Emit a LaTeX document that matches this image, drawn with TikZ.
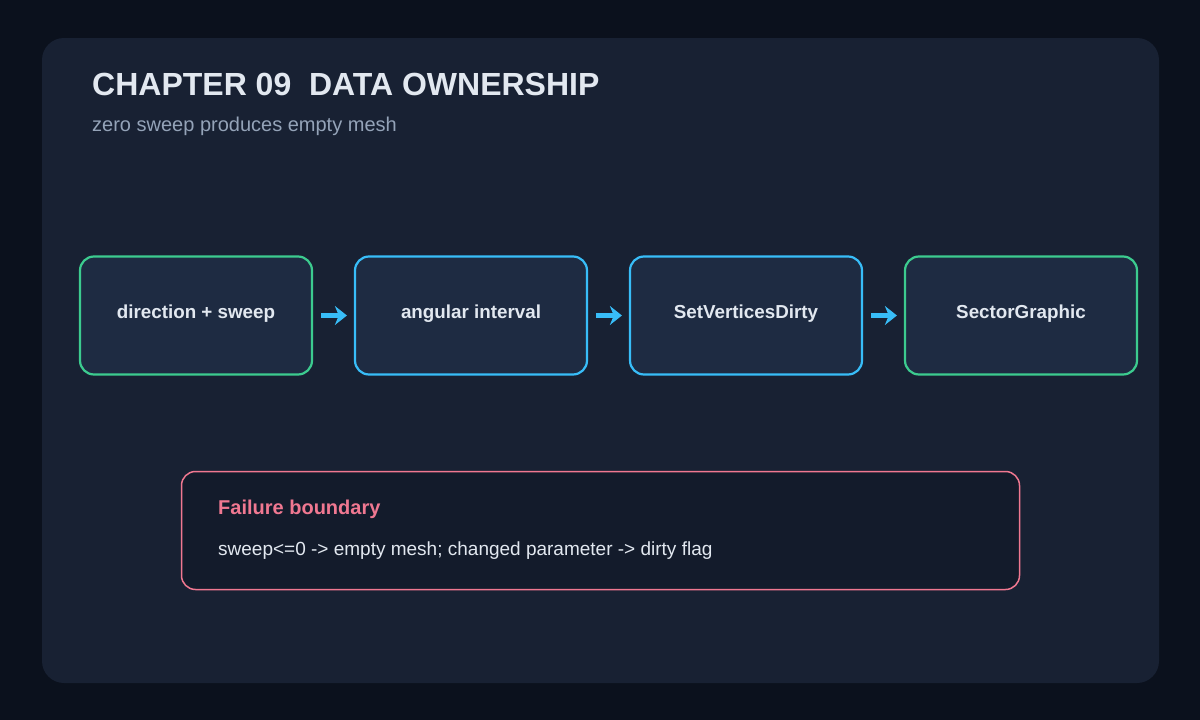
\documentclass[tikz,border=0pt]{standalone}
\usepackage{fontspec}
\setmainfont{Liberation Sans}
\usetikzlibrary{arrows.meta}
\definecolor{bgc}{HTML}{0B111D}
\definecolor{panel}{HTML}{182133}
\definecolor{boxfill}{HTML}{1E2B42}
\definecolor{failfill}{HTML}{131B2B}
\definecolor{greenc}{HTML}{3CCB8F}
\definecolor{bluec}{HTML}{38BDF8}
\definecolor{pinkc}{HTML}{F07891}
\definecolor{txt}{HTML}{E2E8F0}
\definecolor{sub}{HTML}{94A3B8}
\tikzset{
  stepbox/.style={draw=#1, line width=2.2pt, fill=boxfill, rounded corners=14pt,
    minimum width=232pt, minimum height=118pt, inner sep=0pt,
    text height=13.5pt, text depth=8pt,
    text=txt, font=\fontsize{18.8}{22}\selectfont\bfseries},
  flow/.style={-{Stealth[length=12pt,width=19pt]}, line width=4.5pt, draw=bluec, shorten <=8pt, shorten >=7pt},
}
\begin{document}
\begin{tikzpicture}[x=1pt,y=-1pt]
\useasboundingbox (0,0) rectangle (1200,720);
\fill[bgc] (0,0) rectangle (1200,720);
\fill[panel, rounded corners=22pt] (42,38) rectangle (1159,683);
\node[anchor=base west, text=txt, font=\fontsize{32}{38}\selectfont\bfseries, inner sep=0pt] (title) at (92,95) {CHAPTER 09\ \ DATA OWNERSHIP};
\node[anchor=base west, text=sub, font=\fontsize{20}{24}\selectfont, inner sep=0pt] (subtitle) at (92,131) {zero sweep produces empty mesh};
\node[stepbox=greenc] (n1) at (196,315.5) {direction + sweep};
\node[stepbox=bluec] (n2) at (471,315.5) {angular interval};
\node[stepbox=bluec] (n3) at (746,315.5) {SetVerticesDirty};
\node[stepbox=greenc] (n4) at (1021,315.5) {SectorGraphic};
\draw[flow] (n1) -- (n2);
\draw[flow] (n2) -- (n3);
\draw[flow] (n3) -- (n4);
\node[draw=pinkc, line width=1.5pt, fill=failfill, rounded corners=14pt, minimum width=838pt, minimum height=118pt, inner sep=0pt] (fail) at (600.5,530.5) {};
\node[anchor=base west, text=pinkc, font=\fontsize{20}{24}\selectfont\bfseries, inner sep=0pt] (failtitle) at (218,514) {Failure boundary};
\node[anchor=base west, text=txt, font=\fontsize{19}{23}\selectfont, inner sep=0pt] (failbody) at (218,555) {sweep<=0 -> empty mesh; changed parameter -> dirty flag};
\end{tikzpicture}
\end{document}
